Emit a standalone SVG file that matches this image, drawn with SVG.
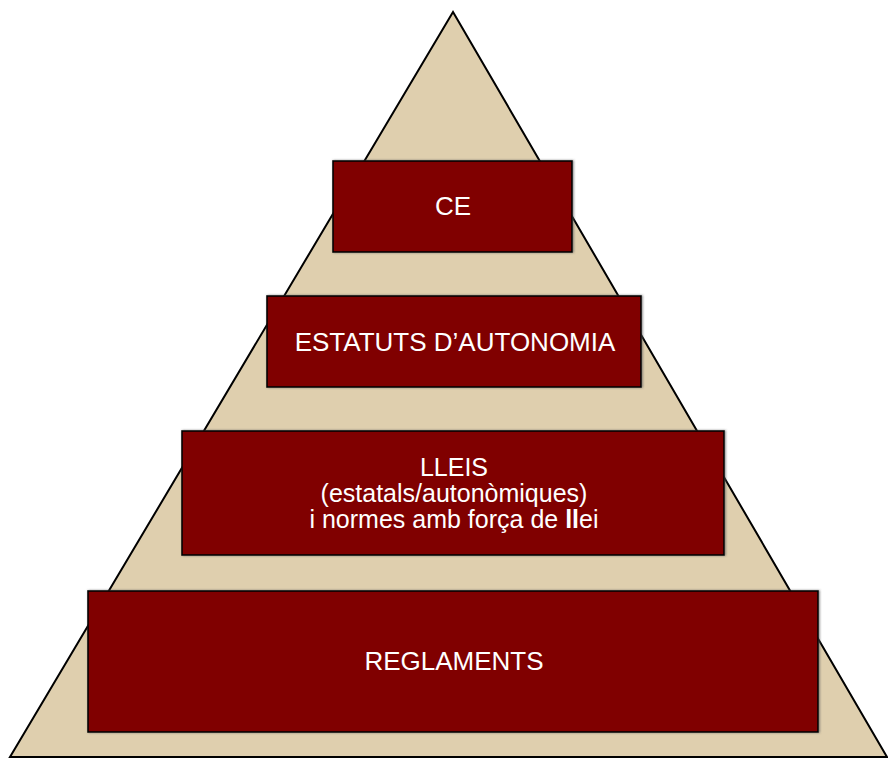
<svg xmlns="http://www.w3.org/2000/svg" width="888" height="758" viewBox="0 0 888 758">
<defs>
<filter id="sh" x="-5%" y="-10%" width="110%" height="120%">
<feDropShadow dx="1" dy="0" stdDeviation="0.8" flood-color="#555" flood-opacity="0.7"/>
</filter>
<style>
.box{fill:#800000;stroke:#000;stroke-width:1.6;filter:url(#sh)}
.lbl{fill:#fff;font-family:"Liberation Sans",Arial,sans-serif;font-size:26px;text-anchor:middle}
.sm{font-size:25px}
.pyr{fill:#dfcfae;stroke:#000;stroke-width:2}
</style>
</defs>
<rect width="888" height="758" fill="#fff"/>
<g id="pyramid"><polygon class="pyr" points="453,12 10,757 887,757"/></g>
<g id="connectors"></g>
<g id="ce"><rect class="box" x="333" y="161" width="239" height="91"/><text class="lbl" x="453" y="215">CE</text></g>
<g id="estatuts"><rect class="box" x="267" y="296" width="374" height="91"/><text class="lbl" x="455" y="350.5">ESTATUTS D’AUTONOMIA</text></g>
<g id="lleis"><rect class="box" x="182" y="431" width="542" height="124"/>
<text class="lbl sm" x="454" y="476">LLEIS</text>
<text class="lbl sm" x="454" y="501.5">(estatals/autonòmiques)</text>
<text class="lbl sm" x="454" y="528">i normes amb força de <tspan font-weight="bold">ll</tspan>ei</text></g>
<g id="reglaments"><rect class="box" x="88" y="591" width="730" height="141"/><text class="lbl" x="454" y="669.5">REGLAMENTS</text></g>
</svg>
